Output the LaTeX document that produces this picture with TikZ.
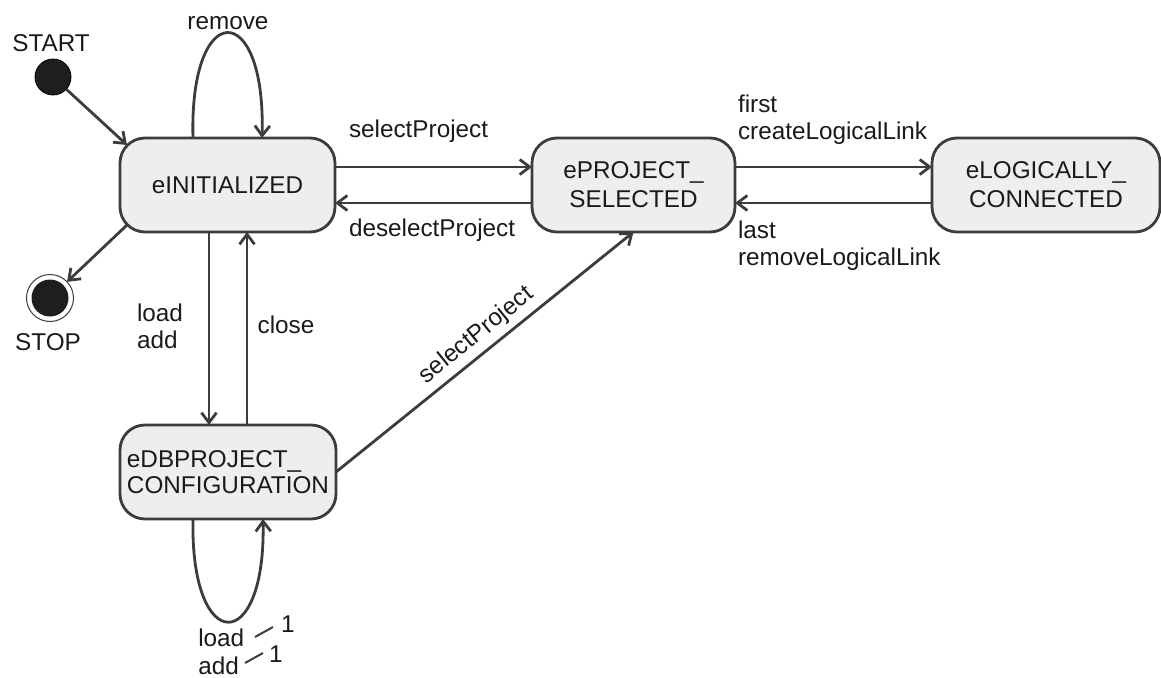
\documentclass[tikz,border=0pt]{standalone}
\usepackage{fontspec}
\setmainfont{Liberation Sans}
\usetikzlibrary{arrows.meta,calc}
\definecolor{edge}{HTML}{3C3C3C}
\definecolor{statefill}{HTML}{EEEEEE}
\definecolor{ink}{HTML}{1A1A1A}
\definecolor{dot}{HTML}{1E1E1E}
\begin{document}
\begin{tikzpicture}[x=1pt,y=-1pt,
  every node/.style={font=\fontsize{24.3}{27.3}\selectfont, text=ink, inner sep=0pt, outer sep=0pt},
  state/.style={draw=edge, line width=2.8pt, fill=statefill, rounded corners=25pt,
    minimum height=94pt, align=center, font=\fontsize{24.3}{29}\selectfont},
  lbl/.style={align=left, anchor=west},
  arr/.style={draw=edge, line width=2.8pt, -{Straight Barb[length=10pt,width=15pt]}},
  tick/.style={draw=edge, line width=2pt},
  initial/.style={circle, fill=dot, draw=black, line width=0.8pt, minimum size=36pt},
  final/.style={circle, draw=edge, line width=1pt, minimum size=47pt,
    path picture={\fill[dot] (path picture bounding box.center) circle (18.5pt);}},
]
\useasboundingbox (0,0) rectangle (1161,677);

% states
\node[state, minimum width=215pt] (init) at (227.5,185) {eINITIALIZED};
\node[state, minimum width=203pt] (proj) at (633.5,185) {ePROJECT\_\\SELECTED};
\node[state, minimum width=228pt] (logic) at (1046,185) {eLOGICALLY\_\\CONNECTED};
\node[state, minimum width=216pt, align=left, font=\fontsize{24.3}{26}\selectfont] (db) at (228,472) {eDBPROJECT\_\\CONFIGURATION};

% pseudo states
\node[initial] (start) at (53,77) {};
\node (startlbl) at (51,43) {START};
\node[final] (stop) at (50,298) {};
\node (stoplbl) at (48,342) {STOP};

% helper lines for parallel connectors
\coordinate (ya) at (0,167);
\coordinate (yb) at (0,203);
\coordinate (xa) at (209,0);
\coordinate (xb) at (247,0);

% transitions
\draw[arr] (start) -- ($(init.north west)+(7,7)$);
\draw[arr] ($(init.south west)+(7,-7)$) -- (stop);

\draw[arr] ([xshift=-34.5pt]init.north) .. controls +(-4,-140) and +(4,-140) .. ([xshift=34.5pt]init.north);
\node (remove) at (228,23) {remove};

\draw[arr] (init.east |- ya) -- (proj.west |- ya);
\draw[arr] (proj.west |- yb) -- (init.east |- yb);
\node[lbl] (sel) at (349,131.7) {selectProject};
\node[lbl] (desel) at (349,230.4) {deselectProject};

\draw[arr] (proj.east |- ya) -- (logic.west |- ya);
\draw[arr] (logic.west |- yb) -- (proj.east |- yb);
\node[lbl] (create) at (738,119.4) {first\\createLogicalLink};
\node[lbl] (removell) at (738,245.4) {last\\removeLogicalLink};

\draw[arr] (init.south -| xa) -- (db.north -| xa);
\draw[arr] (db.north -| xb) -- (init.south -| xb);
\node[lbl] (loadadd) at (137,326.5) {load\\add};
\node (close) at (286,325) {close};

\draw[arr] (db.east) -- node[sloped, pos=0.51, above=6.8pt] (selp) {selectProject} (proj.south);

\draw[arr] ([xshift=-35pt]db.south) .. controls +(-3,137) and +(3,137) .. ([xshift=35pt]db.south);
\node[lbl] (loadadd2) at (198.3,651.7) {load\\add};
\coordinate (t1a) at (255,637);
\coordinate (t1b) at (273,627);
\coordinate (t2a) at (245,663);
\coordinate (t2b) at (263,653);
\draw[tick] (t1a) -- (t1b);
\draw[tick] (t2a) -- (t2b);
\node (one1) at (288,624) {1};
\node (one2) at (276,654) {1};
\end{tikzpicture}
\end{document}
